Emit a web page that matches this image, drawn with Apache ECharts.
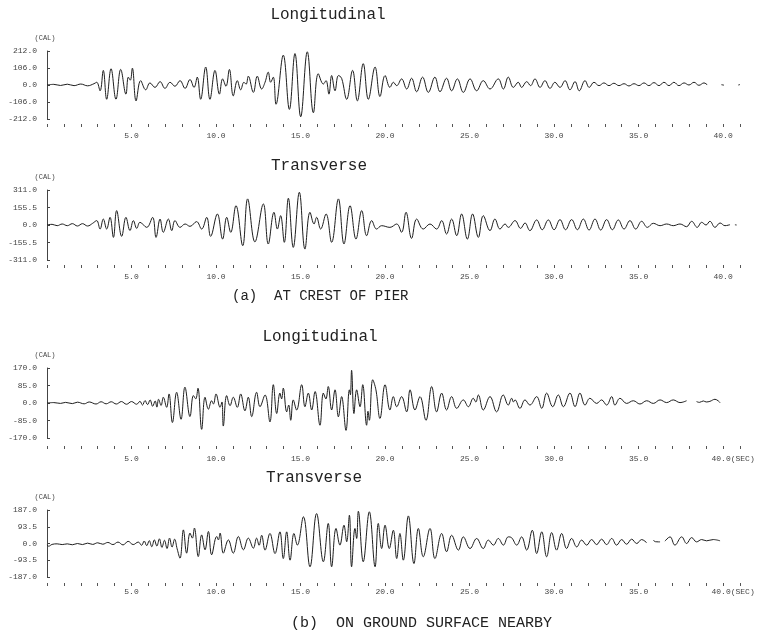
<!DOCTYPE html>
<html><head><meta charset="utf-8">
<script src="https://cdn.jsdelivr.net/npm/echarts@6/dist/echarts.min.js"></script>
<style>html,body{margin:0;padding:0;background:#fff}#c{width:758px;height:631px}</style>
</head><body><div id="c"></div>
<script>
// time (s), acceleration (gal)
const crestLong = [[0,0],[0.4,4],[0.8,-3],[1.2,5],[1.6,-4],[2.0,6],[2.4,-5],[2.78,8],[2.94,17],[3.14,-36],[3.33,91],[3.53,-89],[3.79,101],[4.08,-89],[4.36,97],[4.67,-57],[4.81,49],[4.93,30],[5.05,105],[5.27,-99],[5.54,27],[5.84,-30],[6.09,13],[6.39,-15],[6.69,21],[6.98,-21],[7.28,17],[7.57,-8],[7.87,27],[8.17,-21],[8.46,34],[8.70,-15],[8.89,49],[9.09,-89],[9.39,112],[9.64,-89],[9.94,91],[10.2,-57],[10.39,38],[10.59,-8],[10.79,97],[11.02,-68],[11.26,27],[11.46,-30],[11.65,17],[11.78,5],[11.91,55],[12.21,-46],[12.44,55],[12.70,-25],[12.90,17],[13.09,80],[13.23,17],[13.39,49],[13.55,-120],[13.98,186],[14.34,-152],[14.67,196],[15.01,-198],[15.40,207],[15.76,-173],[16.05,70],[16.35,6],[16.51,27],[16.68,-57],[16.84,59],[17.04,-36],[17.24,59],[17.43,42],[17.73,-89],[18.08,91],[18.36,-99],[18.71,133],[19.01,-89],[19.41,112],[19.70,-72],[20.00,59],[20.29,-15],[20.49,17],[20.69,-4],[20.98,38],[21.28,-25],[21.57,42],[21.87,-42],[22.22,49],[22.56,-46],[22.95,49],[23.25,-42],[23.64,42],[23.94,-36],[24.28,38],[24.63,-46],[25.03,38],[25.42,-36],[25.81,27],[26.21,-25],[26.70,38],[27.0,-25],[27.29,49],[27.59,-15],[27.88,17],[28.08,-15],[28.38,21],[28.61,-4],[28.87,38],[29.17,-15],[29.46,27],[29.76,-21],[30.05,17],[30.35,-15],[30.65,27],[30.94,-30],[31.24,21],[31.49,-36],[31.83,27],[32.08,-15],[32.36,17],[32.66,-4],[32.95,13],[33.25,-4],[33.54,11],[33.84,-4],[34.14,8],[34.43,-6],[34.73,8],[35.02,-4],[35.32,13],[35.61,-4],[35.91,15],[36.21,-4],[36.50,17],[36.80,-4],[37.09,17],[37.39,-4],[37.69,13],[37.98,0],[38.28,17],[38.57,-2],[38.87,13],[39.07,0],[39.3,null],[39.9,2],[40.05,-1],[40.4,null],[40.9,0],[41.0,3]];

const crestTrans = [[0,0],[0.3,6],[0.6,-6],[0.9,9],[1.2,-6],[1.5,12],[1.8,-9],[2.1,12],[2.4,-9],[2.7,15],[2.94,39],[3.14,-36],[3.33,53],[3.53,-36],[3.73,68],[3.93,-110],[4.12,128],[4.42,-101],[4.67,68],[4.91,-50],[5.11,39],[5.31,-30],[5.50,24],[5.90,-21],[6.25,68],[6.45,-110],[6.69,53],[6.88,-65],[7.18,53],[7.38,-50],[7.57,39],[7.87,-21],[8.17,9],[8.46,-12],[8.85,30],[9.15,-36],[9.45,68],[9.68,-101],[10.08,98],[10.39,-125],[10.63,68],[10.87,-65],[11.18,172],[11.58,-184],[11.87,232],[12.3,-150],[12.80,187],[13.09,-169],[13.43,113],[13.63,-36],[13.82,83],[14.04,-154],[14.28,238],[14.57,-199],[14.93,291],[15.26,-214],[15.56,113],[15.80,9],[15.95,68],[16.19,-36],[16.51,98],[16.84,-154],[17.24,232],[17.57,-169],[17.93,172],[18.28,-125],[18.62,128],[18.91,-95],[19.21,39],[19.50,-36],[19.80,-6],[20.29,-21],[20.69,9],[20.98,-65],[21.24,113],[21.57,-119],[21.87,53],[22.26,-36],[22.66,9],[23.05,-36],[23.35,39],[23.64,-80],[23.94,53],[24.24,-95],[24.53,98],[24.87,-125],[25.18,98],[25.52,-110],[25.81,83],[26.21,-50],[26.50,53],[26.80,-36],[27.10,9],[27.29,-21],[27.69,39],[28.02,-30],[28.28,18],[28.57,-50],[28.97,45],[29.30,-42],[29.66,45],[30.0,-42],[30.35,48],[30.68,-42],[31.04,48],[31.38,-42],[31.73,53],[32.07,-45],[32.42,53],[32.76,-45],[33.11,48],[33.45,-42],[33.80,45],[34.14,-36],[34.49,39],[34.83,-36],[35.18,33],[35.52,-21],[35.87,15],[36.27,-6],[36.66,9],[37.05,-6],[37.45,9],[37.84,-15],[38.14,33],[38.47,-21],[38.73,24],[38.99,0],[39.22,33],[39.52,-21],[39.82,18],[40.11,-6],[40.41,3],[40.6,null],[40.7,2],[40.8,0]];

const groundLong = [[0,0],[0.4,2],[0.8,-2],[1.1,3],[1.5,-3],[1.8,4],[2.2,-4],[2.5,5],[2.9,-5],[3.2,6],[3.5,-4],[3.8,6],[4.1,-5],[4.4,7],[4.7,-6],[5.0,7],[5.3,-6],[5.5,8],[5.65,-10],[5.8,12],[5.95,-8],[6.1,15],[6.25,-16],[6.4,10],[6.5,-20],[6.6,18],[6.75,-12],[6.88,28],[7.08,-21],[7.22,44],[7.42,-95],[7.67,52],[7.93,-79],[8.16,77],[8.46,-66],[8.66,36],[8.8,20],[8.93,72],[9.15,-128],[9.35,28],[9.55,-30],[9.74,11],[9.85,-5],[10.0,44],[10.24,-21],[10.35,5],[10.43,-112],[10.63,36],[10.83,-13],[11.02,28],[11.26,-21],[11.46,44],[11.71,-38],[11.91,28],[12.11,-66],[12.40,52],[12.60,-18],[12.90,39],[13.19,-92],[13.39,89],[13.59,-51],[13.78,48],[13.88,20],[13.98,72],[14.18,-43],[14.3,-10],[14.42,-84],[14.57,15],[14.77,-34],[15.07,89],[15.26,-18],[15.46,48],[15.66,-34],[15.86,56],[16.15,-108],[16.35,48],[16.5,20],[16.64,80],[16.84,-34],[17.04,64],[17.24,-67],[17.43,31],[17.69,-133],[17.89,64],[17.95,40],[18.02,159],[18.16,-51],[18.32,64],[18.52,-18],[18.68,89],[18.91,-108],[18.99,-40],[19.07,-84],[19.27,113],[19.46,64],[19.70,-75],[20.0,89],[20.29,-34],[20.49,31],[20.69,-18],[20.98,31],[21.28,-43],[21.48,64],[21.77,-34],[22.07,31],[22.42,-84],[22.76,80],[23.05,-43],[23.35,48],[23.64,-34],[23.94,31],[24.24,-26],[24.63,15],[24.93,-18],[25.22,23],[25.37,5],[25.52,39],[25.81,-34],[26.21,31],[26.60,-43],[26.99,39],[27.29,-10],[27.49,23],[27.6,5],[27.69,15],[27.98,-26],[28.28,15],[28.57,-10],[28.97,31],[29.27,-26],[29.56,48],[29.92,-18],[30.25,39],[30.55,-18],[30.94,48],[31.24,-18],[31.53,48],[31.83,-10],[32.12,23],[32.52,-2],[32.81,15],[33.11,-10],[33.41,31],[33.60,-10],[33.90,23],[34.29,-2],[34.69,11],[35.08,-5],[35.48,11],[35.87,-2],[36.27,15],[36.66,2],[37.05,15],[37.45,2],[37.84,11],[37.95,null],[38.43,7],[38.6,3],[38.83,10],[39.0,5],[39.22,8],[39.52,18],[39.82,2]];

const groundTrans = [[0,-8],[0.1,-15],[0.3,-5],[0.6,-2],[0.9,-6],[1.2,-2],[1.5,-7],[1.8,0],[2.1,-6],[2.4,2],[2.7,-5],[3.0,4],[3.3,-4],[3.6,6],[3.9,-6],[4.2,8],[4.5,-8],[4.8,12],[5.1,-6],[5.4,8],[5.6,-10],[5.75,14],[5.9,-12],[6.05,16],[6.2,-18],[6.35,20],[6.5,-14],[6.65,26],[6.8,-22],[6.95,18],[7.1,-28],[7.25,30],[7.4,-20],[7.55,24],[7.7,-30],[7.87,-82],[8.07,76],[8.26,-54],[8.46,58],[8.6,30],[8.72,86],[8.95,-73],[9.15,48],[9.35,-35],[9.55,67],[9.74,-63],[10.04,39],[10.14,20],[10.24,58],[10.43,-54],[10.73,20],[11.02,-54],[11.32,39],[11.62,-35],[11.91,30],[12.21,-26],[12.40,30],[12.55,-10],[12.70,46],[12.90,-37],[13.19,56],[13.49,-56],[13.78,65],[13.98,-84],[14.18,65],[14.38,-93],[14.61,56],[14.81,-9],[15.17,149],[15.56,-130],[15.95,167],[16.35,-102],[16.64,112],[16.84,-130],[17.10,84],[17.33,-9],[17.57,102],[17.73,10],[17.89,158],[18.02,-130],[18.22,84],[18.32,28],[18.42,180],[18.71,-102],[19.07,177],[19.41,-130],[19.60,112],[19.80,-28],[20.0,102],[20.25,-28],[20.49,74],[20.69,-84],[20.88,56],[21.08,-93],[21.38,154],[21.71,-112],[21.97,84],[22.26,-74],[22.66,84],[22.95,-84],[23.35,56],[23.64,-46],[23.94,46],[24.34,-37],[24.63,37],[25.03,-28],[25.42,28],[25.81,-28],[26.11,19],[26.41,-9],[26.70,28],[27.0,-9],[27.29,37],[27.49,32],[27.79,-9],[28.08,37],[28.38,-37],[28.71,74],[28.97,-56],[29.27,65],[29.56,-74],[29.86,61],[30.15,-37],[30.45,56],[30.74,-28],[31.04,28],[31.34,-19],[31.63,19],[31.93,-9],[32.22,22],[32.52,-6],[32.81,24],[33.11,-6],[33.41,28],[33.70,-9],[34.0,22],[34.29,-4],[34.59,24],[34.89,0],[35.18,22],[35.48,4],[35.6,null],[35.87,19],[36.0,10],[36.27,9],[36.4,null],[36.56,13],[36.86,37],[37.15,-9],[37.55,37],[37.84,0],[38.14,33],[38.43,9],[38.73,22],[39.02,15],[39.42,22],[39.82,15]];

const yLimits = [212, 311, 170, 187];
const yHalf = [106, 155.5, 85, 93.5];
const secLabels = [5,10,15,20,25,30,35,40];
const panelTitles = ['Longitudinal','Transverse','Longitudinal','Transverse'];
const captions = ['(a)  AT CREST OF PIER','(b)  ON GROUND SURFACE NEARBY'];

const traces = [crestLong, crestTrans, groundLong, groundTrans];
const layout = [
  {top:51, height:68, offset:5, margin:8, titleX:328, titleY:15, sec:false},
  {top:190, height:70, offset:5, margin:8, titleX:319, titleY:166, sec:false},
  {top:368, height:70, offset:8, margin:9, titleX:320, titleY:337, sec:true},
  {top:510, height:67, offset:6, margin:5, titleX:314, titleY:478, sec:true}
];
const mono = '"Liberation Mono", "DejaVu Sans Mono", monospace';
const grids = [], xAxes = [], yAxes = [], series = [], graphics = [];
layout.forEach((p, i) => {
  grids.push({left:47, right:18, top:p.top, height:p.height});
  xAxes.push({
    type:'value', gridIndex:i, min:0, max:41, interval:1, offset:p.offset,
    axisLine:{show:false, onZero:false},
    axisTick:{show:true, length:3, lineStyle:{color:'#555', width:1}},
    axisLabel:{show:true, customValues:secLabels, margin:p.margin, fontSize:8, color:'#444', fontFamily:mono,
      formatter: v => (p.sec && v === 40) ? '{pad|}40.0(SEC)' : v.toFixed(1),
      rich:{pad:{width:20}}},
    splitLine:{show:false}
  });
  yAxes.push({
    type:'value', gridIndex:i, min:-yLimits[i], max:yLimits[i], interval:yHalf[i],
    name:'(CAL)', nameLocation:'end', nameGap:9,
    nameTextStyle:{fontSize:7, color:'#444', fontFamily:mono, padding:[0,4,0,0]},
    axisLine:{show:true, lineStyle:{color:'#444', width:1}},
    axisTick:{show:true, inside:true, length:3, lineStyle:{color:'#444'}},
    axisLabel:{margin:10, fontSize:8, color:'#444', fontFamily:mono, formatter: v => v.toFixed(1)},
    splitLine:{show:false}
  });
  series.push({
    type:'line', xAxisIndex:i, yAxisIndex:i, data:traces[i], showSymbol:false, smooth:0.4,
    connectNulls:false, lineStyle:{color:'#1e1e1e', width:1}, silent:true
  });
  graphics.push({type:'text',
    style:{x:p.titleX, y:p.titleY, text:panelTitles[i], font:'16px ' + mono, fill:'#222', align:'center', verticalAlign:'middle'}});
});
graphics.push({type:'text', style:{x:232, y:296, text:captions[0], font:'14px ' + mono, fill:'#222', align:'left', verticalAlign:'middle'}});
graphics.push({type:'text', style:{x:552, y:623, text:captions[1], font:'15px ' + mono, fill:'#222', align:'right', verticalAlign:'middle'}});

const chart = echarts.init(document.getElementById('c'), null, {renderer:'canvas'});
chart.setOption({
  animation:false, backgroundColor:'#fff',
  grid:grids, xAxis:xAxes, yAxis:yAxes, series:series, graphic:graphics
});
</script></body></html>
